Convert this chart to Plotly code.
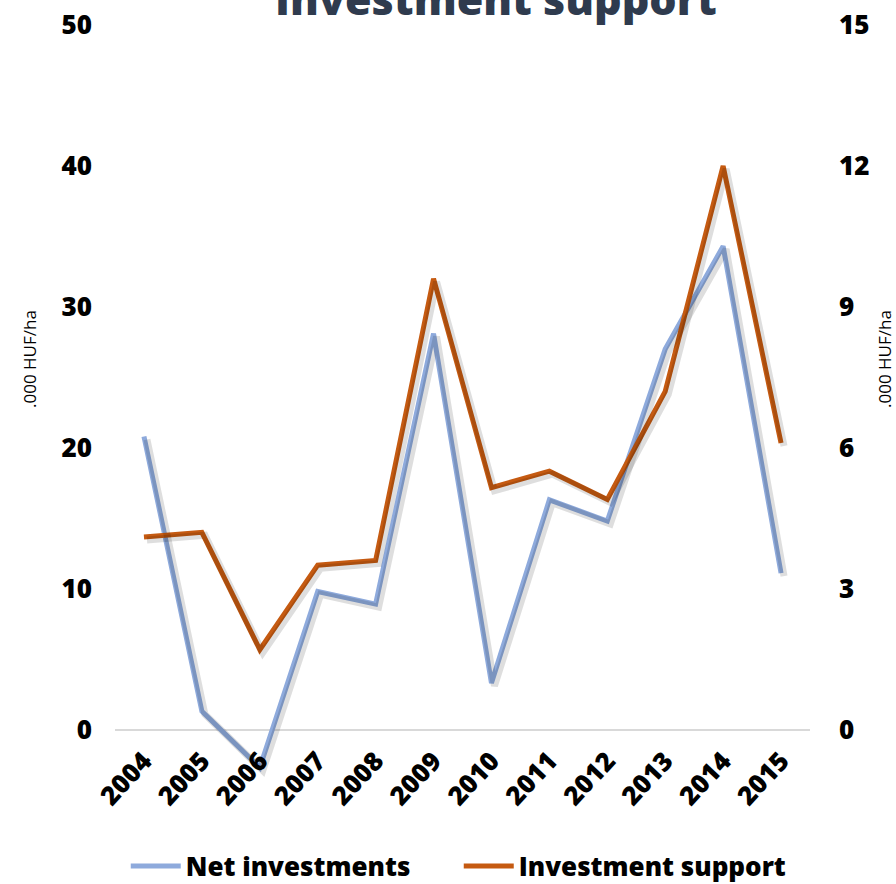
import plotly.graph_objects as go

# ---- data ----
years = ["2004", "2005", "2006", "2007", "2008", "2009", "2010", "2011", "2012", "2013", "2014", "2015"]
net_investments = [20.8, 1.3, -2.7, 9.8, 8.9, 28.1, 3.3, 16.3, 14.8, 27.0, 34.3, 11.1]
investment_support = [4.1, 4.2, 1.7, 3.5, 3.6, 9.6, 5.15, 5.5, 4.9, 7.2, 12.0, 6.1]
left_ticks = [0, 10, 20, 30, 40, 50]
right_ticks = [0, 3, 6, 9, 12, 15]
title_text = "Investment support"
axis_title = ".000 HUF/ha"

# ---- layout constants ----
W, H = 896, 884
ML, MR, MT, MB = 115, 86, 25, 84
PW, PH = W - ML - MR, H - MT - MB
YL = [-5, 50]
YR = [-1.5, 15]
XR = [-0.5, 11.5]
BLUE = "#8eaadc"
ORANGE = "#c55a11"
FONT = "Open Sans"

# shadow offsets (pixels) converted into axis units
dx_px, dy_px = 3, 3
dx = dx_px * (XR[1] - XR[0]) / PW
dyl = dy_px * (YL[1] - YL[0]) / PH
dyr = dy_px * (YR[1] - YR[0]) / PH

fig = go.Figure()
shadow = dict(color="rgba(0,0,0,0.13)", width=7)
fig.add_trace(go.Scatter(x=years, y=net_investments, mode="lines", line=shadow,
                         xaxis="x3", yaxis="y3", showlegend=False, hoverinfo="skip"))
fig.add_trace(go.Scatter(x=years, y=investment_support, mode="lines", line=shadow,
                         xaxis="x3", yaxis="y4", showlegend=False, hoverinfo="skip"))
fig.add_trace(go.Scatter(x=years, y=net_investments, mode="lines", name="Net investments",
                         line=dict(color=BLUE, width=5), xaxis="x", yaxis="y"))
fig.add_trace(go.Scatter(x=years, y=investment_support, mode="lines", name="Investment support",
                         line=dict(color=ORANGE, width=5), xaxis="x", yaxis="y2"))

tickfont = dict(family=FONT, size=26, color="#000000", weight=800)
zero_pos = (0 - YL[0]) / (YL[1] - YL[0])

fig.update_layout(
    width=W, height=H,
    margin=dict(l=ML, r=MR, t=MT, b=MB, autoexpand=False),
    paper_bgcolor="white", plot_bgcolor="white",
    showlegend=True,
    xaxis=dict(type="category", range=XR, anchor="free", position=zero_pos,
               tickangle=-47, tickfont=dict(family=FONT, size=26, color="#000000", weight=800),
               showgrid=False, showline=False, ticks="", zeroline=False, ticklabelstandoff=10,
               automargin=False),
    xaxis3=dict(type="category", range=[XR[0] - dx, XR[1] - dx], overlaying="x",
                visible=False),
    yaxis=dict(range=YL, tickvals=left_ticks, tickfont=tickfont, showgrid=False,
               zeroline=True, zerolinecolor="#d9d9d9", zerolinewidth=1.5,
               showline=False, ticks="", ticklabelstandoff=22, automargin=False),
    yaxis2=dict(range=YR, tickvals=right_ticks, tickfont=tickfont, overlaying="y",
                side="right", showgrid=False, zeroline=False, showline=False, ticks="",
                ticklabelstandoff=28, automargin=False),
    yaxis3=dict(range=[YL[0] + dyl, YL[1] + dyl], overlaying="y", visible=False),
    yaxis4=dict(range=[YR[0] + dyr, YR[1] + dyr], overlaying="y", visible=False),
    legend=dict(orientation="h", xref="container", yref="container",
                x=0.512, y=1 - 866 / H, xanchor="center", yanchor="middle",
                font=dict(family=FONT, size=26, color="#000000", weight=800),
                itemwidth=50, entrywidth=268, traceorder="normal"),
    annotations=[
        dict(text=title_text, xref="paper", yref="paper",
             x=(496 - ML) / PW, y=1 + (MT - 30) / PH, xanchor="center", yanchor="bottom",
             showarrow=False, font=dict(family=FONT, size=43, color="#2f3b4e", weight=800)),
        dict(text=axis_title, xref="paper", yref="paper", x=(30 - ML) / PW,
             y=1 - (359 - MT) / PH, textangle=-90, showarrow=False,
             xanchor="center", yanchor="middle",
             font=dict(family=FONT, size=17, color="#000000")),
        dict(text=axis_title, xref="paper", yref="paper", x=(885 - ML) / PW,
             y=1 - (359 - MT) / PH, textangle=-90, showarrow=False,
             xanchor="center", yanchor="middle",
             font=dict(family=FONT, size=17, color="#000000")),
    ],
)

fig.write_html("out.html", config={"displayModeBar": False},
               post_script="document.body.style.margin='0';document.body.style.overflow='hidden';")
